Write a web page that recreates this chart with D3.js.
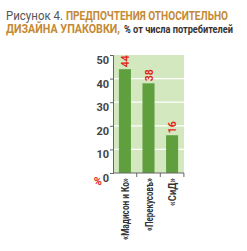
<!DOCTYPE html>
<html>
<head>
<meta charset="utf-8">
<script src="https://cdn.jsdelivr.net/npm/d3@7"></script>
<style>
body { margin: 0; background: #fff; }
text { font-family: "Roboto", "Liberation Sans", sans-serif; }
</style>
</head>
<body>
<svg width="247" height="251"></svg>
<script>
var svg = d3.select("svg");

var categories = ["«Мадисон и Ко»", "«Перекусовъ»", "«СиД»"];
var values = [44, 38, 16];
var yTicks = [10, 20, 30, 40, 50];
var labelLen = [62, 53, 28];

var margin = { left: 113, right: 63, top: 55, bottom: 78 };
var x0 = margin.left, x1 = 247 - margin.right;
var yTop = margin.top, yBot = 251 - margin.bottom;

var x = d3.scaleBand().domain(categories).range([x0, x1]).paddingInner(0.49).paddingOuter(0.25);
var y = d3.scaleLinear().domain([0, 50]).range([yBot, yTop]);

// title, squeezed to match the condensed face of the original
function squeezed(px, py, txt, len, size, fill, weight) {
  return svg.append("text").attr("x", px).attr("y", py)
    .attr("font-size", size).attr("fill", fill).attr("font-weight", weight)
    .attr("textLength", len).attr("lengthAdjust", "spacingAndGlyphs")
    .text(txt);
}
squeezed(6, 20, "Рисунок 4.", 57, 12, "#555", "normal");
squeezed(66, 20, "ПРЕДПОЧТЕНИЯ ОТНОСИТЕЛЬНО", 162, 13, "#c48a35", "bold");
squeezed(6, 33, "ДИЗАЙНА УПАКОВКИ,", 114, 13, "#c48a35", "bold");
squeezed(124, 33, "% от числа потребителей", 109, 10, "#333", "bold");

// background
svg.append("rect").attr("x", x0).attr("y", yTop).attr("width", x1 - x0).attr("height", yBot - yTop)
  .attr("fill", "#d3e8bf");

// gridlines
svg.selectAll(".grid").data(yTicks.slice(0, 4)).enter().append("line")
  .attr("x1", x0).attr("x2", x1)
  .attr("y1", function(d) { return y(d); }).attr("y2", function(d) { return y(d); })
  .attr("stroke", "#fff").attr("stroke-width", 1.2);

// bars
svg.selectAll(".bar").data(values).enter().append("rect")
  .attr("x", function(d, i) { return x(categories[i]); })
  .attr("y", function(d) { return y(d); })
  .attr("width", x.bandwidth())
  .attr("height", function(d) { return yBot - y(d); })
  .attr("fill", "#5f9f3d");

// value labels
svg.selectAll(".val").data(values).enter().append("text")
  .attr("transform", function(d, i) {
    return "translate(" + (x(categories[i]) + x.bandwidth() / 2 + 4) + "," + (y(d) - 2) + ") rotate(-90)";
  })
  .attr("fill", "#e0261b").attr("font-weight", "bold").attr("font-size", 11)
  .attr("textLength", 12).attr("lengthAdjust", "spacingAndGlyphs")
  .text(function(d) { return d; });

// y axis
var yAxis = svg.append("g").attr("transform", "translate(" + x0 + ",0)")
  .call(d3.axisLeft(y).tickValues([0].concat(yTicks)).tickSize(3).tickFormat(""));
yAxis.select(".domain").attr("stroke", "#666");
yAxis.selectAll(".tick line").attr("stroke", "#666");

svg.selectAll(".ylab").data([0].concat(yTicks)).enter().append("text")
  .attr("x", x0 - 4).attr("y", function(d) { return y(d) + 9; })
  .attr("text-anchor", "end").attr("font-size", 11).attr("font-weight", "bold").attr("fill", "#444")
  .text(function(d) { return d; });

svg.append("text").attr("x", x0 - 11).attr("y", yBot + 12).attr("text-anchor", "end")
  .attr("font-size", 11).attr("font-weight", "bold").attr("fill", "#e0261b").text("%");

// x axis
var step = x.step();
var xb = svg.append("g");
xb.append("line").attr("x1", x0).attr("x2", x1).attr("y1", yBot).attr("y2", yBot).attr("stroke", "#666");
xb.selectAll(".xt").data(categories).enter().append("line")
  .attr("x1", function(d) { return x(d) + x.bandwidth() + (step - x.bandwidth()) / 2; })
  .attr("x2", function(d) { return x(d) + x.bandwidth() + (step - x.bandwidth()) / 2; })
  .attr("y1", yBot).attr("y2", yBot + 4).attr("stroke", "#666");

svg.selectAll(".xlab").data(categories).enter().append("text")
  .attr("transform", function(d) {
    return "translate(" + (x(d) + x.bandwidth() / 2 + 4) + "," + (yBot + 5) + ") rotate(-90)";
  })
  .attr("text-anchor", "end").attr("font-size", 11).attr("font-weight", "bold").attr("fill", "#333")
  .attr("textLength", function(d, i) { return labelLen[i]; }).attr("lengthAdjust", "spacingAndGlyphs")
  .text(function(d) { return d; });
</script>
</body>
</html>
